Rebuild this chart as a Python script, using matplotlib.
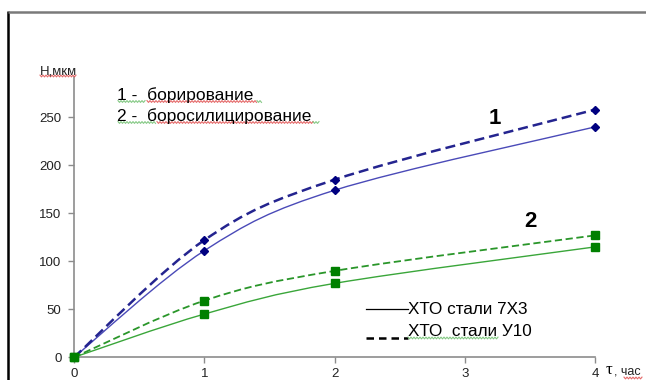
import numpy as np
import matplotlib
matplotlib.use("Agg")
import matplotlib.pyplot as plt
from matplotlib.path import Path
from matplotlib.patches import PathPatch

plt.rcParams['font.family'] = ['Liberation Sans', 'DejaVu Sans']

# Treatment time, hours
tau = [0, 1, 2, 4]
# Layer thickness H, um
bor_u10 = [0, 122, 185, 258]      # boriding, steel U10 (dashed)
bor_7x3 = [0, 111, 174, 240]      # boriding, steel 7X3 (solid)
bsi_u10 = [0, 59, 90, 127]        # borosiliconizing, steel U10 (dashed)
bsi_7x3 = [0, 45, 77, 115]        # borosiliconizing, steel 7X3 (solid)

x_ticks = [0, 1, 2, 3, 4]
y_ticks = [0, 50, 100, 150, 200, 250]

W, H = 646, 380
fig = plt.figure(figsize=(W / 100, H / 100), dpi=100)

ax_l, ax_r, ax_b, ax_t = 74, 595, 357.3, 77
ax = fig.add_axes([ax_l / W, (H - ax_b) / H, (ax_r - ax_l) / W, (ax_b - ax_t) / H])
ax.set_xlim(0, 4)
ax.set_ylim(0, 292)
for s in ('top', 'right'):
    ax.spines[s].set_visible(False)
for s in ('left', 'bottom'):
    ax.spines[s].set_color('#8c8c8c')
    ax.spines[s].set_linewidth(1.2)
ax.set_xticks(x_ticks)
ax.set_yticks(y_ticks)
ax.tick_params(axis='both', colors='#8c8c8c', labelcolor='#222222',
               labelsize=9.5, length=4, width=1)
ax.tick_params(axis='y', pad=5)
ax.tick_params(axis='x', pad=4)
ax.set_facecolor('none')


def smooth_path(xs, ys):
    """Bezier curve through points with Catmull-Rom style control points."""
    pts = np.column_stack([xs, ys]).astype(float)
    n = len(pts)
    verts = [pts[0]]
    codes = [Path.MOVETO]
    for i in range(n - 1):
        p0 = pts[i - 1] if i > 0 else pts[i]
        p1 = pts[i]
        p2 = pts[i + 1]
        p3 = pts[i + 2] if i + 2 < n else pts[i + 1]
        c1 = p1 + (p2 - p0) / 6.0
        c2 = p2 - (p3 - p1) / 6.0
        verts += [c1, c2, p2]
        codes += [Path.CURVE4] * 3
    return Path(verts, codes)


def draw_series(ys, color, mcolor, marker, ms, lw, dashed):
    patch = PathPatch(smooth_path(tau, ys), facecolor='none', edgecolor=color,
                      linewidth=lw, linestyle=(0, (4, 2)) if dashed else '-',
                      zorder=2, clip_on=False)
    ax.add_patch(patch)
    ax.plot(tau, ys, linestyle='none', marker=marker, markersize=ms,
            color=mcolor, zorder=3, clip_on=False)


draw_series(bor_7x3, '#4a4ab8', '#000080', 'D', 4.3, 1.0, False)
draw_series(bor_u10, '#24248f', '#000080', 'D', 4.3, 1.8, True)
draw_series(bsi_7x3, '#3aa63a', '#008000', 's', 5.3, 1.0, False)
draw_series(bsi_u10, '#2a962a', '#008000', 's', 5.3, 1.3, True)

# Overlay in pixel coordinates for frame, captions and annotations
ov = fig.add_axes([0, 0, 1, 1], zorder=5)
ov.set_xlim(0, W)
ov.set_ylim(H, 0)
ov.axis('off')
ov.patch.set_alpha(0)

ov.plot([8, 8], [11, 380], color='black', lw=1.8, solid_capstyle='butt')
ov.plot([8, 646], [12, 12], color='#7a7a7a', lw=1.8, solid_capstyle='butt')


def wavy(x0, x1, y, color):
    xs = np.arange(x0, x1 + 0.5, 1.5)
    ys = y + 0.9 * np.where(np.arange(len(xs)) % 2 == 0, -1, 1)
    ov.plot(xs, ys, color=color, lw=0.8, alpha=0.85)


ov.text(40, 71, 'Н,мкм', fontsize=9.5, color='#222222', ha='left', va='center')
wavy(40, 76, 76, '#e05050')

ov.text(117, 95.5, '1 -  борирование', fontsize=12.5, color='black', ha='left', va='center')
ov.text(117, 116.5, '2 -  боросилицирование', fontsize=12.5, color='black', ha='left', va='center')
wavy(118, 146, 101.5, '#70c070')
wavy(147, 257, 101.5, '#e05050')
wavy(257, 262, 101.5, '#70c070')
wavy(118, 156, 122.5, '#70c070')
wavy(157, 313, 122.5, '#e05050')
wavy(313, 319, 122.5, '#70c070')

ov.text(495, 119, '1', fontsize=16, fontweight='bold', color='black', ha='center', va='center')
ov.text(530, 221.5, '2', fontsize=16, fontweight='bold', color='black', ha='center', va='center')

# Line style key
ov.plot([366, 408], [308.5, 308.5], color='black', lw=0.9)
ov.plot([366, 408], [337.5, 337.5], color='black', lw=1.8, linestyle=(0, (3, 2)))
ov.text(408, 309, 'ХТО стали 7Х3', fontsize=12.3, color='black', ha='left', va='center')
ov.text(408, 331, 'ХТО  стали У10', fontsize=12.3, color='black', ha='left', va='center')
wavy(408, 498, 338, '#70c070')

ov.text(606, 370, 'τ', fontsize=12, family='Liberation Serif', color='black', ha='left', va='center')
ov.text(614, 371.5, ', час', fontsize=9, color='#222222', ha='left', va='center')
wavy(624, 642, 378, '#e05050')

fig.savefig('out.png', dpi=100)
